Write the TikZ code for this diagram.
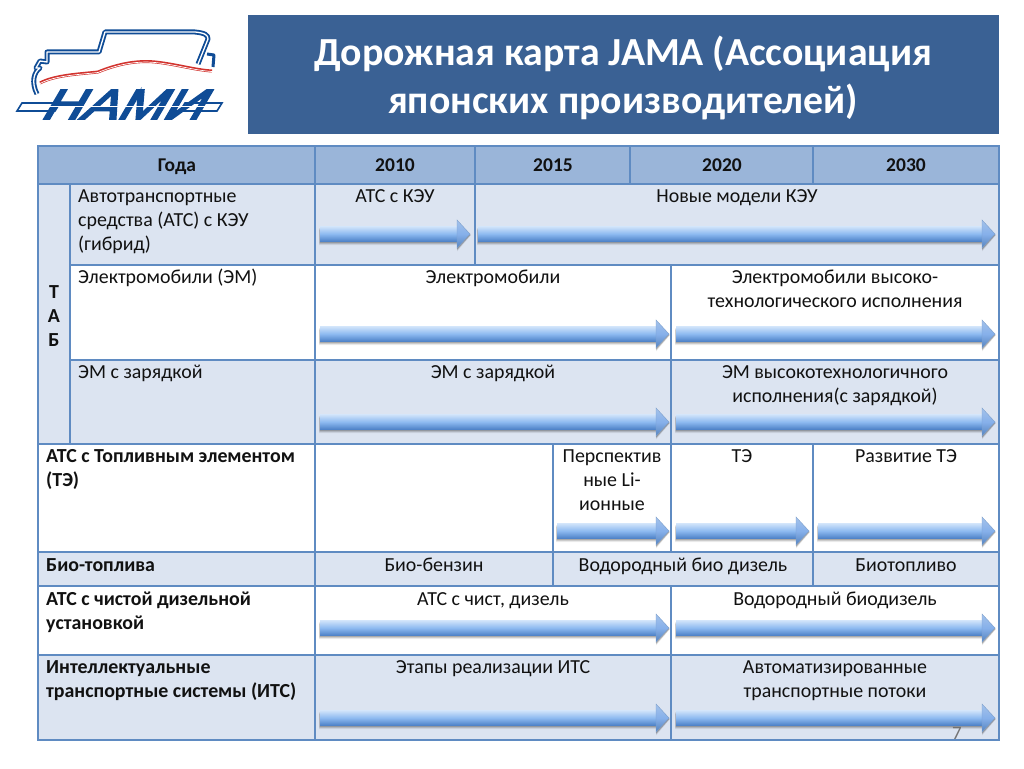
\documentclass[tikz,border=0pt]{standalone}
\usepackage{fontspec}
\setmainfont{Carlito}
\newfontfamily\logofont[FakeBold=4,FakeSlant=0.45]{Liberation Sans}
\definecolor{hdr}{HTML}{9AB5D9}
\definecolor{band}{HTML}{DCE4F1}
\definecolor{rule}{HTML}{5F8BC2}
\definecolor{titlebg}{HTML}{3A6194}
\definecolor{logob}{HTML}{0F4C96}
\definecolor{logor}{HTML}{D2322D}
\definecolor{ink}{HTML}{111111}
\definecolor{arrtop}{HTML}{CFE3FA}
\definecolor{arrmid}{HTML}{8CB9F0}
\definecolor{arrbot}{HTML}{4C80C6}
\definecolor{headtop}{HTML}{A4C2EA}
\definecolor{headmid}{HTML}{86B0EA}
\definecolor{headbot}{HTML}{5583BE}
\definecolor{arredge}{HTML}{7C9FCC}
\tikzset{
  x=1pt,y=-1pt,
  gridline/.style={draw=rule,line width=1.05pt},
  hdrline/.style={draw=rule,line width=2pt},
  txt/.style={font=\fontsize{19.9}{24}\selectfont,text=ink,align=center,anchor=north,inner sep=0pt,execute at begin node=\strut},
  ltxt/.style={txt,align=left,anchor=north west},
  btxt/.style={ltxt,font=\fontsize{19.9}{24}\selectfont\bfseries},
  htxt/.style={txt,font=\fontsize{19.5}{24}\selectfont\bfseries,anchor=center},
  ttxt/.style={font=\fontsize{39.8}{48}\selectfont\bfseries,text=white,align=center,inner sep=0pt},
  shaftbody/.style={top color=arrtop,bottom color=arrbot,middle color=arrmid},
  headbody/.style={top color=headtop,bottom color=headbot,middle color=headmid,draw=arredge,line width=.4pt},
  logoline/.style={draw=logob,line width=5pt,line join=round},
  logoinner/.style={draw=white,line width=1.3pt,line join=round},
}
\newcommand{\blockarrow}[3]{% x1, x2, yc
  \foreach \s/\o in {2.5/.07,1.5/.12,.7/.18}{
    \fill[black,opacity=\o,line join=round] (#1-\s*.4,#3-7.5+1+\s) -- (#2-13,#3-7.5+1+\s) -- (#2-13,#3-14+1+\s) -- (#2+\s*.4,#3+1) -- (#2-13,#3+14+1+\s) -- (#2-13,#3+7.5+1+\s) -- (#1-\s*.4,#3+7.5+1+\s) -- cycle;
  }
  \path[shaftbody] (#1,#3-7.5) rectangle (#2-12.5,#3+7.5);
  \path[headbody] (#2-13,#3-14) -- (#2,#3) -- (#2-13,#3+14) -- cycle;
}
\begin{document}
\begin{tikzpicture}
\useasboundingbox (0,0) rectangle (1024,768);
\fill[white] (0,0) rectangle (1024,768);

% title
\fill[titlebg] (248,15) rectangle (999,134);
\node[ttxt] (title) at (623,78) {Дорожная карта JAMA (Ассоциация\\японских производителей)};

% logo
\begin{scope}
  \draw[logoline] (37,94) .. controls (31,82) and (34,72) .. (40,68) -- (36,68) -- (40,61) -- (47,62) -- (47,52) -- (99,52) -- (105,32) -- (195,32) .. controls (205,33) and (208,35) .. (208,39) -- (198,64);
  \draw[logoline,line width=3pt] (207,54) -- (214,55) -- (213,67);
  \draw[logoinner] (37,94) .. controls (31,82) and (34,72) .. (40,68) -- (36,68) -- (40,61) -- (47,62) -- (47,52) -- (99,52) -- (105,32) -- (195,32) .. controls (205,33) and (208,35) .. (208,39) -- (198,64);
  \draw[logor,line width=3pt] (40,83) .. controls (55,75) and (80,74) .. (98,72) .. controls (115,65) and (135,60) .. (155,62) .. controls (175,64) and (195,70) .. (212,71);
  \draw[white,line width=.7pt] (40,83.5) .. controls (55,75.5) and (80,74.5) .. (98,72.5) .. controls (115,65.5) and (135,60.5) .. (155,62.5) .. controls (175,64.5) and (195,70.5) .. (212,71.5);
  \draw[logob,line width=1.6pt,fill=white] (17,111) -- (22,103) -- (60,103) -- (55,111) -- cycle;
  \draw[logob,line width=1.6pt,fill=white] (180,111) -- (185,103) -- (222,103) -- (217,111) -- cycle;
  \node[inner sep=0pt,text=logob,font=\fontsize{42}{42}\logofont] (logotext) at (120,104.5)
    {\scalebox{1.3}[1]{НАМИ}};
  \draw[white,line width=1pt] (30,106.5) -- (208,106.5);
\end{scope}

% table fills
\fill[hdr] (38,146) rectangle (999,184);
\fill[band] (38,184) rectangle (70,444);
\fill[band] (70,184) rectangle (999,265);
\fill[band] (70,360) rectangle (999,444);
\fill[band] (38,552) rectangle (999,586);
\fill[band] (38,655) rectangle (999,740);

% horizontal rules
\draw[gridline] (70,265) -- (999,265);
\draw[gridline] (70,360) -- (999,360);
\draw[hdrline] (38,444) -- (999,444);
\draw[gridline] (38,552) -- (999,552);
\draw[gridline] (38,586) -- (999,586);
\draw[gridline] (38,655) -- (999,655);
\draw[hdrline] (38,184) -- (999,184);

% vertical rules
\draw[gridline] (70,184) -- (70,444);
\draw[gridline] (315,146) -- (315,740);
\draw[gridline] (475,146) -- (475,265);
\draw[gridline] (630,146) -- (630,184);
\draw[gridline] (813,146) -- (813,184);
\draw[gridline] (671,265) -- (671,552);
\draw[gridline] (813,444) -- (813,586);
\draw[gridline] (553,444) -- (553,586);
\draw[gridline] (671,586) -- (671,740);
\draw[gridline] (38,146) rectangle (999,740);

% arrows
\blockarrow{320}{470}{234}
\blockarrow{478}{995}{234}
\blockarrow{320}{669}{334}
\blockarrow{676}{995}{334}
\blockarrow{320}{669}{422}
\blockarrow{676}{995}{422}
\blockarrow{557}{669}{531}
\blockarrow{676}{809}{531}
\blockarrow{818}{995}{531}
\blockarrow{320}{669}{628}
\blockarrow{676}{995}{628}
\blockarrow{320}{669}{718}
\blockarrow{676}{995}{718}

% header
\node[htxt] (h0) at (177,167) {Года};
\node[htxt] (h1) at (395,167) {2010};
\node[htxt] (h2) at (553,167) {2015};
\node[htxt] (h3) at (722,167) {2020};
\node[htxt] (h4) at (906,167) {2030};

% side
\node[txt,font=\fontsize{19.9}{24}\selectfont\bfseries] (tab) at (54,285) {Т\\А\\Б};

% left labels
\node[ltxt] (l1) at (78,189.5) {Автотранспортные\\средства (АТС) с КЭУ\\(гибрид)};
\node[ltxt] (l2) at (78,266.5) {Электромобили (ЭМ)};
\node[ltxt] (l3) at (78,361.5) {ЭМ с зарядкой};
\node[btxt] (l4) at (46,449.5) {АТС с Топливным элементом\\(ТЭ)};
\node[btxt] (l5) at (46,554) {Био-топлива};
\node[btxt] (l6) at (46,592) {АТС с чистой дизельной\\установкой};
\node[btxt] (l7) at (46,660.5) {Интеллектуальные\\транспортные системы (ИТС)};

% cells
\node[txt] (c11) at (395,185.5) {АТС с КЭУ};
\node[txt] (c12) at (737,185.5) {Новые модели КЭУ};
\node[txt] (c21) at (493,266.5) {Электромобили};
\node[txt] (c22) at (835,270) {Электромобили высоко-\\технологического исполнения};
\node[txt] (c31) at (493,361.5) {ЭМ с зарядкой};
\node[txt] (c32) at (835,365.5) {ЭМ высокотехнологичного\\исполнения(с зарядкой)};
\node[txt] (c41) at (612,449.5) {Перспектив\\ные Li-\\ионные};
\node[txt] (c42) at (742,445.5) {ТЭ};
\node[txt] (c43) at (906,445.5) {Развитие ТЭ};
\node[txt] (c51) at (434,554) {Био-бензин};
\node[txt] (c52) at (683,554) {Водородный био дизель};
\node[txt] (c53) at (906,554) {Биотопливо};
\node[txt] (c61) at (493,588) {АТС с чист, дизель};
\node[txt] (c62) at (835,588) {Водородный биодизель};
\node[txt] (c71) at (493,656.5) {Этапы реализации ИТС};
\node[txt] (c72) at (835,660.5) {Автоматизированные\\транспортные потоки};

\node[inner sep=0pt,text=black!55,font=\fontsize{19}{19}\selectfont] (pg) at (957,733) {7};
\end{tikzpicture}
\end{document}
